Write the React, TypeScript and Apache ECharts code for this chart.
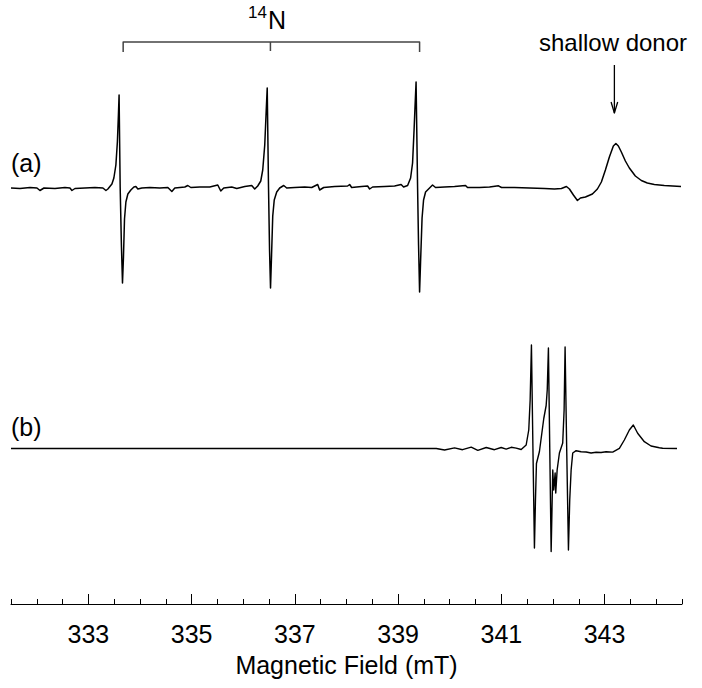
import React, { useEffect, useRef } from "react";
import * as echarts from "echarts";

// ---- Data (magnetic field in mT, intensity in arbitrary units) ----
const FIELD_A = [
  331.5, 331.674, 331.868, 332.003, 332.061, 332.139, 332.352, 332.545, 332.642, 332.681,
  332.739, 332.932, 333.126, 333.281, 333.339, 333.377, 333.416, 333.455, 333.493, 333.532,
  333.561, 333.581, 333.594, 333.615, 333.639, 333.66, 333.679, 333.699, 333.726, 333.764,
  333.822, 333.881, 333.919, 333.958, 334.035, 334.19, 334.384, 334.539, 334.616, 334.674,
  334.868, 334.926, 334.984, 335.158, 335.351, 335.506, 335.564, 335.622, 335.777, 335.874,
  336.029, 336.164, 336.222, 336.28, 336.339, 336.377, 336.416, 336.445, 336.464, 336.489,
  336.509, 336.528, 336.547, 336.571, 336.6, 336.648, 336.706, 336.784, 336.842, 336.997,
  337.19, 337.326, 337.442, 337.48, 337.558, 337.771, 338.022, 338.061, 338.1, 338.293,
  338.409, 338.448, 338.506, 338.738, 338.932, 339.058, 339.106, 339.184, 339.242, 339.28,
  339.309, 339.329, 339.348, 339.377, 339.396, 339.416, 339.435, 339.464, 339.493, 339.532,
  339.609, 339.667, 339.725, 339.9, 340.093, 340.306, 340.345, 340.577, 340.771, 340.945,
  341.003, 341.254, 341.545, 341.835, 342.029, 342.164, 342.261, 342.319, 342.396, 342.474,
  342.532, 342.629, 342.764, 342.861, 342.938, 343.016, 343.093, 343.17, 343.219, 343.267,
  343.325, 343.403, 343.48, 343.596, 343.712, 343.828, 343.964, 344.157, 344.481,
];
const INTENSITY_A = [
  -1, -1.5, -0.5, -1, -3.5, -1, -1.5, -0.5, -1, -3.5,
  -1.5, -1, -0.5, -1, -3.5, -2, 0.5, 3, 9, 22,
  45, 72, 92, 0, -58, -96, -70, -32, -15, -7,
  -3, 0, 0.5, -2, -1, -0.5, -1, -0.5, -4.5, -1,
  0, 1.5, -0.5, 0, 0, 2, -4, -1, 0, -1.5,
  0.5, 1.5, -2, 1, 6, 17, 42, 77, 99, 0,
  -63, -101, -70, -29, -13, -5, -1, 1.5, -1, -0.5,
  0, -0.5, 2.5, -3, -0.5, 0.5, 1, 2.5, -0.5, 0.5,
  1, -2, 0, 0.5, 1, 2.5, 0, 1.5, 9, 24,
  57, 82, 105, 0, -58, -105, -75, -31, -13, -5,
  -1, 2, -0.5, 0, 0.5, 1.5, -0.5, -0.5, 0, 1.2,
  -0.5, -0.5, -1, -1.5, -2, -1.5, 0.5, -2, -8, -13.5,
  -11, -10, -7, -2, 5, 17, 30, 41, 43.5, 41,
  35, 26, 19, 11, 6.5, 4, 2.5, 1.5, 0.5,
];

const FIELD_B = [
  331.5, 339.739, 339.9, 340.093, 340.248, 340.416, 340.544, 340.707, 340.867, 340.997,
  341.094, 341.191, 341.287, 341.384, 341.481, 341.531, 341.558, 341.583, 341.612, 341.641,
  341.661, 341.68, 341.738, 341.822, 341.868, 341.889, 341.912, 341.938, 341.965, 341.996,
  342.015, 342.042, 342.054, 342.081, 342.125, 342.189, 342.216, 342.235, 342.266, 342.3,
  342.325, 342.352, 342.383, 342.449, 342.545, 342.642, 342.739, 342.836, 342.932, 343.029,
  343.157, 343.287, 343.383, 343.48, 343.557, 343.641, 343.77, 343.9, 344.061, 344.125,
  344.403,
];
const INTENSITY_B = [
  0, 0, -1.5, 0.6, -1.2, 1.4, -1.8, 1, -1.2, 1,
  -0.6, 1.2, 0.4, -1, 3.5, 18.5, 48.5, 103.5, 0, -99.5,
  -51.5, -15, -3, 30, 43, 58.5, 100.5, 0, -103, -21.5,
  -41.5, -24.5, -44.5, -21.5, -4.5, 5.5, 38.5, 101.5, 0, -101.5,
  -51.5, -21.5, -4.5, -2.2, -3.2, -3.5, -4.5, -3.8, -4, -3.2,
  -3.6, 0.2, 8.5, 18.5, 23.5, 15.2, 6.8, 2.5, 0.8, 0.2,
  0,
];

const TICK_LABELS = [333, 335, 337, 339, 341, 343];
const MINOR_TICKS = [
  331.5, 332, 332.5, 333, 333.5, 334, 334.5, 335, 335.5, 336, 336.5, 337, 337.5, 338,
  338.5, 339, 339.5, 340, 340.5, 341, 341.5, 342, 342.5, 343, 343.5, 344, 344.5,
];
const N14_LINE_FIELDS = [333.673, 336.526, 339.416];
const DONOR_FIELD = 343.19;

// ---- Layout (vertical placement in y-axis units, 1 unit = 1 px) ----
const OFFSET_A = 417;
const OFFSET_B = 155.5;
const BRACKET_TOP = 562;
const BRACKET_BOTTOM = 552;
const ARROW_TOP = 539;
const ARROW_TIP = 491;
const ARROW_WING_Y = 502;
const ARROW_WING_DX = 0.064;

const FONT = "'Liberation Sans', Arial, Helvetica, sans-serif";

export default function App() {
  const ref = useRef<HTMLDivElement>(null);

  useEffect(() => {
    if (!ref.current) return;
    const chart = echarts.init(ref.current, null, { renderer: "svg" });

    const dataA = FIELD_A.map((f, i) => [f, INTENSITY_A[i] + OFFSET_A]);
    const dataB = FIELD_B.map((f, i) => [f, INTENSITY_B[i] + OFFSET_B]);
    const [b0, b1, b2] = N14_LINE_FIELDS;
    const bracket = [
      [b0, BRACKET_BOTTOM],
      [b0, BRACKET_TOP],
      [b2, BRACKET_TOP],
      [b2, BRACKET_BOTTOM],
    ];
    const bracketMid = [
      [b1, BRACKET_TOP],
      [b1, BRACKET_BOTTOM + 1],
    ];
    const arrowShaft = [
      [DONOR_FIELD, ARROW_TOP],
      [DONOR_FIELD, ARROW_TIP],
    ];
    const arrowHead = [
      [DONOR_FIELD - ARROW_WING_DX, ARROW_WING_Y],
      [DONOR_FIELD, ARROW_TIP],
      [DONOR_FIELD + ARROW_WING_DX, ARROW_WING_Y],
    ];

    const lineSeries = (data: number[][], color: string, width: number) => ({
      type: "line",
      data,
      xAxisIndex: 0,
      yAxisIndex: 0,
      showSymbol: false,
      symbol: "none",
      smooth: false,
      clip: false,
      silent: true,
      lineStyle: { color, width, join: "round" },
    });

    chart.setOption({
      animation: false,
      backgroundColor: "#ffffff",
      grid: { left: 11, right: 20, top: 4, bottom: 84, containLabel: false },
      xAxis: [
        {
          type: "value",
          position: "bottom",
          min: 331.5,
          max: 344.5,
          name: "Magnetic Field (mT)",
          nameLocation: "middle",
          nameGap: 48,
          nameTextStyle: { color: "#000", fontSize: 25, fontFamily: FONT },
          axisLine: { show: true, lineStyle: { color: "#000", width: 1 } },
          axisTick: {
            show: true,
            inside: true,
            length: 5,
            customValues: MINOR_TICKS,
            lineStyle: { color: "#000", width: 1 },
          },
          axisLabel: {
            show: true,
            customValues: TICK_LABELS,
            margin: 17,
            color: "#000",
            fontSize: 25,
            fontFamily: FONT,
          },
          splitLine: { show: false },
        },
        {
          type: "value",
          position: "bottom",
          min: 331.5,
          max: 344.5,
          axisLine: { show: false },
          axisTick: {
            show: true,
            inside: true,
            length: 10,
            customValues: TICK_LABELS,
            lineStyle: { color: "#000", width: 1 },
          },
          axisLabel: { show: false },
          splitLine: { show: false },
        },
      ],
      yAxis: {
        type: "value",
        min: 0,
        max: 600,
        show: false,
        splitLine: { show: false },
      },
      series: [
        lineSeries(dataA, "#000", 1.5),
        lineSeries(dataB, "#000", 1.4),
        lineSeries(bracket, "#444", 1.5),
        lineSeries(bracketMid, "#444", 1.5),
        lineSeries(arrowShaft, "#000", 1.3),
        lineSeries(arrowHead, "#000", 1.3),
      ],
      graphic: [
        {
          type: "text",
          left: 11,
          top: 150,
          style: { text: "(a)", fontSize: 25, fontFamily: FONT, fill: "#000" },
        },
        {
          type: "text",
          left: 11,
          top: 414,
          style: { text: "(b)", fontSize: 25, fontFamily: FONT, fill: "#000" },
        },
        {
          type: "text",
          x: 613,
          y: 42,
          style: {
            text: "shallow donor",
            fontSize: 24,
            fontFamily: FONT,
            fill: "#000",
            align: "center",
            verticalAlign: "middle",
          },
        },
        {
          type: "text",
          x: 268,
          y: 20,
          style: {
            text: "N",
            fontSize: 25,
            fontFamily: FONT,
            fill: "#000",
            align: "left",
            verticalAlign: "middle",
          },
        },
        {
          type: "text",
          x: 267,
          y: 12,
          style: {
            text: "14",
            fontSize: 17,
            fontFamily: FONT,
            fill: "#000",
            align: "right",
            verticalAlign: "middle",
          },
        },
      ],
    });

    return () => {
      chart.dispose();
    };
  }, []);

  return (
    <div
      ref={ref}
      style={{ position: "fixed", left: 0, top: 0, width: 702, height: 688, background: "#fff" }}
    />
  );
}
